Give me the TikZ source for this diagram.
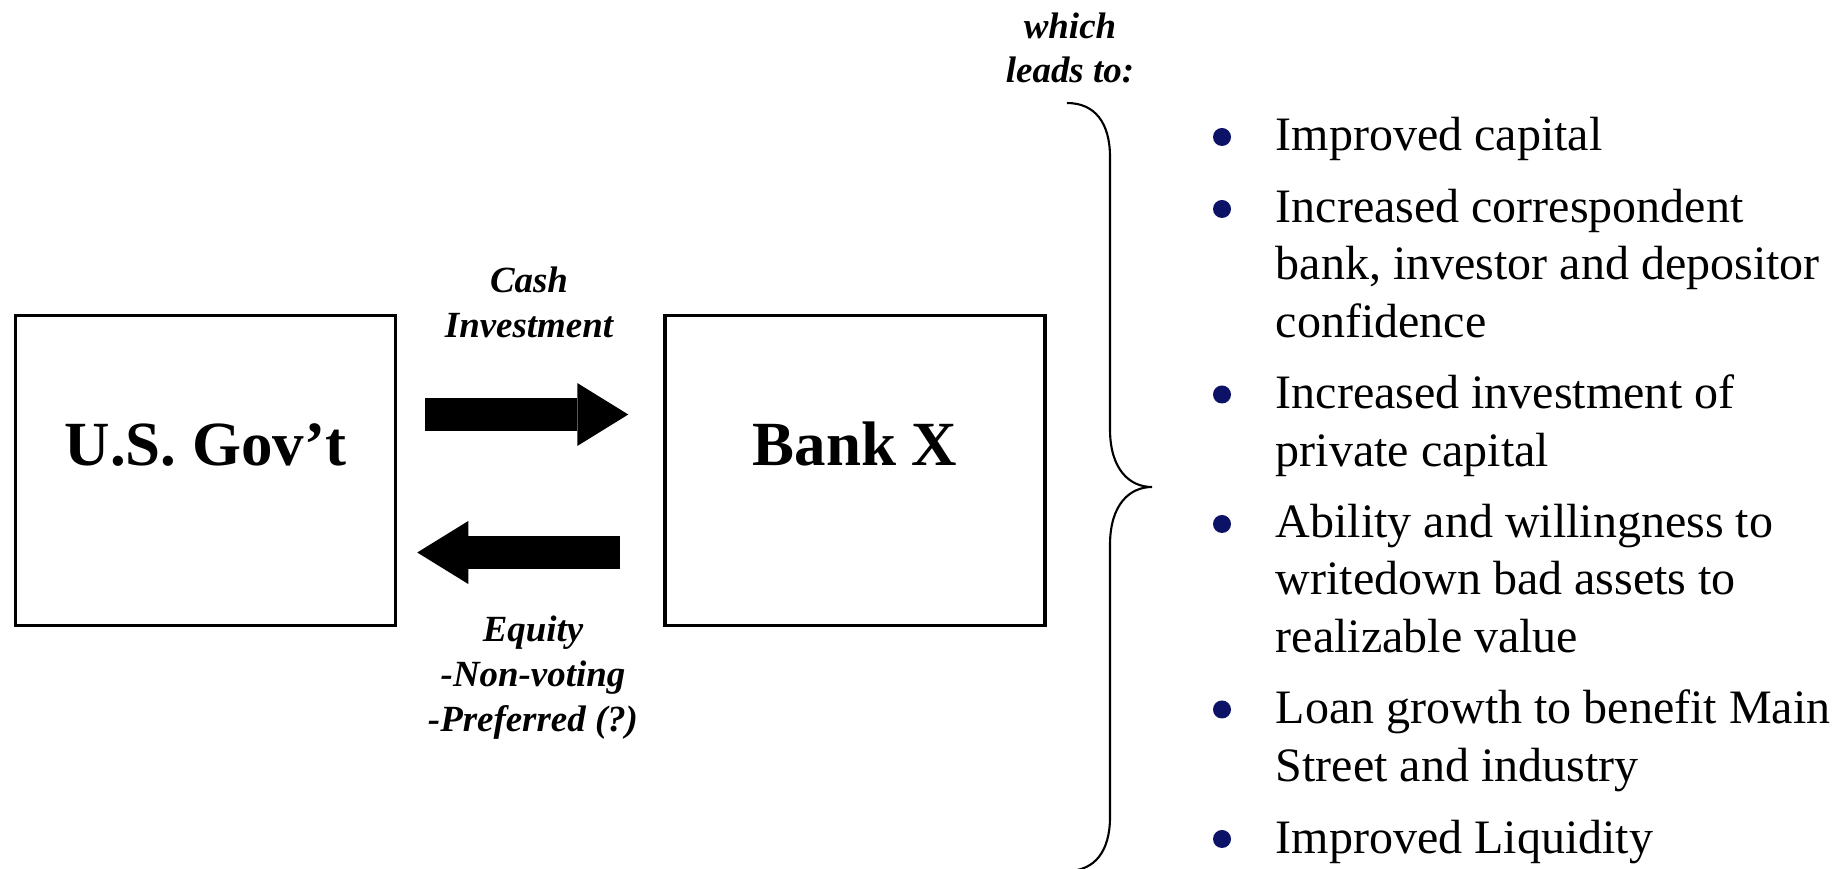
\documentclass[tikz,border=0pt]{standalone}
\usepackage{fontspec}
\setmainfont{Liberation Serif}
\usetikzlibrary{arrows.meta,positioning,calc}
\definecolor{bulletblue}{RGB}{12,18,102}

\begin{document}
\begin{tikzpicture}[
        node distance=2.66cm,
        party/.style={rectangle, draw=black, line width=1pt, minimum width=3.80cm,
                      minimum height=3.10cm, text height=0.45cm, text depth=0.56cm,
                      font=\fontsize{17.9}{21}\selectfont\bfseries},
        flow/.style={-{Triangle[length=0.51cm, width=0.63cm, line width=0pt]}, line width=0.33cm},
        note/.style={align=center, anchor=base, inner sep=0pt,
                     font=\fontsize{10.5}{12.8}\selectfont\bfseries\itshape},
        point/.style={align=left, anchor=base west, inner sep=0pt,
                      font=\fontsize{13.66}{16.22}\selectfont}
    ]
        \useasboundingbox (0,0) rectangle (18.35,8.68);

        \node[party] (gov) at (2.055,3.975) {U.S. Gov’t};
        \node[party, right=of gov] (bank) {Bank X};

        \draw[flow] ($(gov.east)+(0.28,0.56)$) -- ($(bank.west)+(-0.35,0.56)$);
        \draw[flow] ($(bank.west)+(-0.43,-0.82)$) -- ($(gov.east)+(0.20,-0.82)$);

        % base = last line
        \node[note] (cash) at (5.29,5.31) {Cash\\Investment};
        \node[note] (equity) at (5.33,1.37) {Equity\\-Non-voting\\-Preferred (?)};
        \node[note] (leads) at (10.70,7.85) {which\\leads to:};

        % the brace
        \draw[line width=0.6pt] (10.67,7.65) .. controls (10.95,7.65) and (11.10,7.45) .. (11.10,7.11)
            -- (11.10,4.39) .. controls (11.10,3.98) and (11.30,3.81) .. (11.52,3.81)
            .. controls (11.30,3.81) and (11.10,3.64) .. (11.10,3.23)
            -- (11.10,0.51) .. controls (11.10,0.17) and (10.95,-0.03) .. (10.67,-0.03);

        \node[point] (i1) at (12.75,7.17) {Improved capital};
        \node[point] (i2) at (12.75,5.31) {Increased correspondent\\bank, investor and depositor\\confidence};
        \node[point] (i3) at (12.75,4.02) {Increased investment of\\private capital};
        \node[point] (i4) at (12.75,2.16) {Ability and willingness to\\writedown bad assets to\\realizable value};
        \node[point] (i5) at (12.75,0.87) {Loan growth to benefit Main\\Street and industry};
        \node[point] (i6) at (12.75,0.15) {Improved Liquidity};

        \foreach \n in {1,...,6}
            \fill[bulletblue] ($(i\n.north west)+(-0.53,-0.20)$) circle (0.09cm);
    \end{tikzpicture}
\end{document}
